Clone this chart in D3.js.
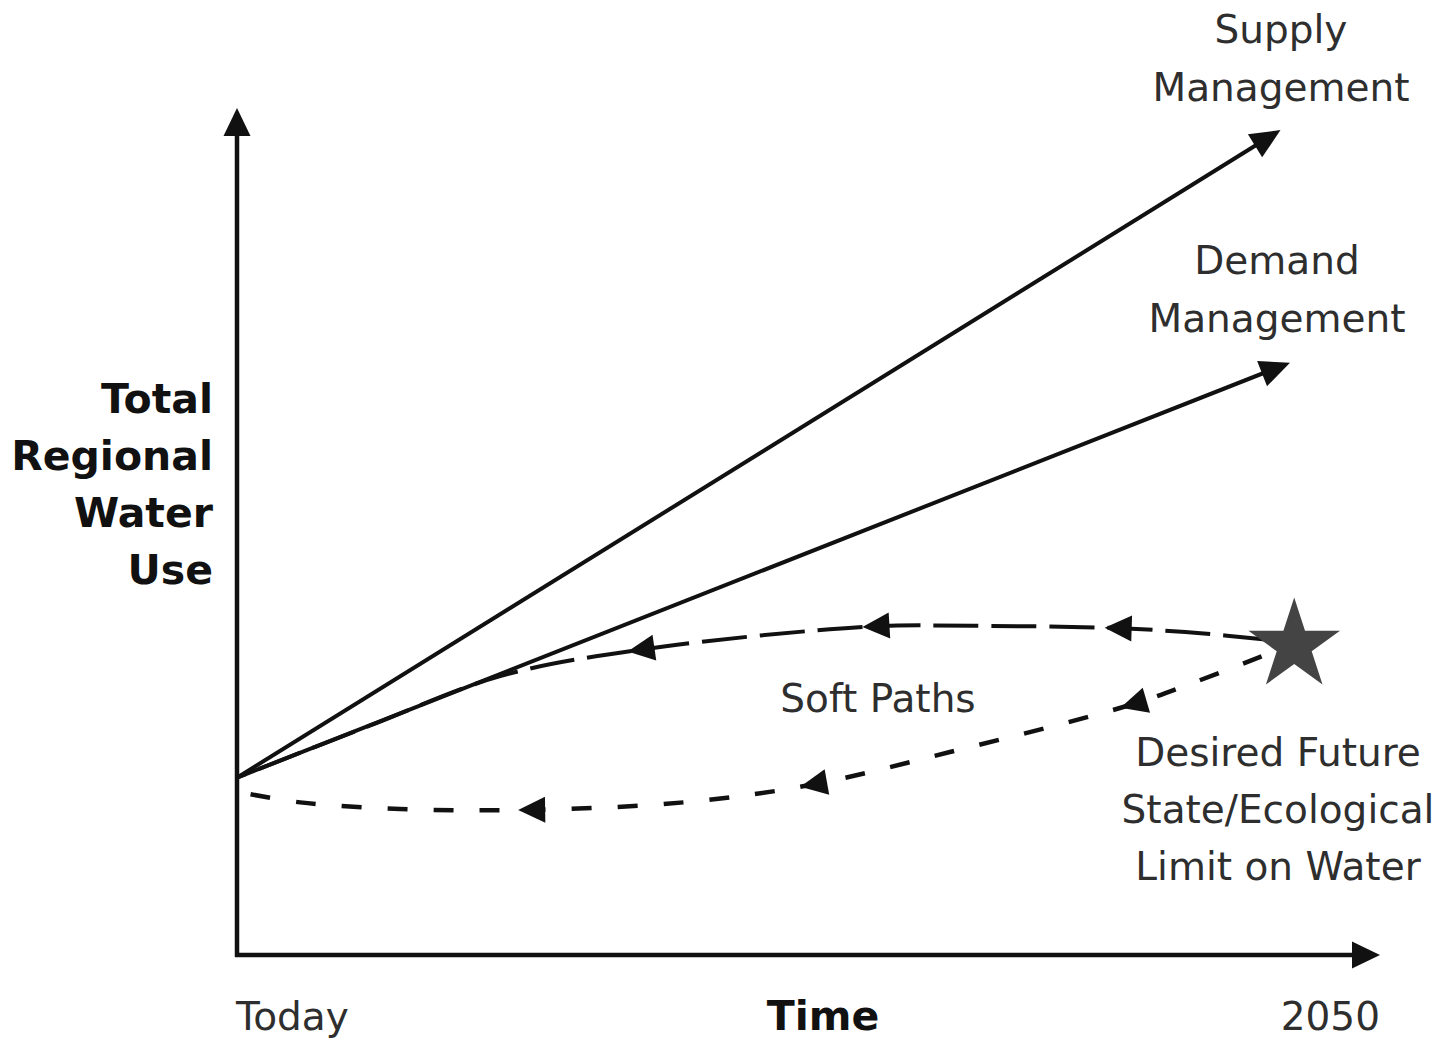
<!DOCTYPE html>
<html>
<head>
<meta charset="utf-8">
<script src="https://cdn.jsdelivr.net/npm/d3@7"></script>
<style>
  html, body { margin: 0; padding: 0; background: #fff; }
  svg { display: block; }
</style>
</head>
<body>
<svg id="chart" width="1450" height="1041"></svg>
<script>
// ---------- data ----------
const yAxisLabel = ["Total", "Regional", "Water", "Use"];
const xAxisTitle = "Time";
const xTickLabels = ["Today", "2050"];
const supplyLabel = ["Supply", "Management"];
const demandLabel = ["Demand", "Management"];
const softLabel = "Soft Paths";
const starLabel = ["Desired Future", "State/Ecological", "Limit on Water"];

// line end points (x: 0 = today, 100 = 2050; y: relative water use)
const supplyPts = [[0, 21.5], [99.1, 100]];
const demandPts = [[0, 21.5], [100, 71.8]];
// soft paths drawn from the star back to today
const softUpperPts = [[97.9, 38.2], [91.5, 39.0], [83.9, 39.6], [70.0, 39.9], [60.1, 39.8], [38.3, 37.0], [25.0, 33.8], [12.6, 27.8], [0, 21.5]];
const softLowerPts = [[97.3, 36.2], [90.8, 33.0], [84.8, 30.3], [67.7, 24.6], [54.4, 20.6], [42.4, 18.5], [28.1, 17.6], [15.5, 17.7], [6.0, 18.5], [0, 19.8]];
const softUpperArrowX = [82.4, 59.4, 37.1];
const softLowerArrowX = [83.9, 53.5, 26.7];
const starPoint = [100.4, 37.5];

// ---------- scales ----------
const svg = d3.select("#chart");
const x = d3.scaleLinear().domain([0, 100]).range([237, 1290]);
const y = d3.scaleLinear().domain([0, 100]).range([955, 130]);

const INK = "#111";
const TEXT = "#2e2e2e";

function arrowHead(g, tip, angle, len, wid, fill) {
  const ux = Math.cos(angle), uy = Math.sin(angle);
  const px = -uy, py = ux;
  const bx = tip[0] - ux * len, by = tip[1] - uy * len;
  const pts = [tip, [bx + px * wid / 2, by + py * wid / 2], [bx - px * wid / 2, by - py * wid / 2]];
  g.append("path").attr("d", "M" + pts.map(p => p.join(",")).join("L") + "Z").attr("fill", fill || INK);
}

// ---------- axes ----------
const axes = svg.append("g");
const x0 = x(0), y0 = y(0);
const xEnd = x.range()[1] + 90, yEnd = y.range()[1] - 22;
axes.append("line").attr("x1", x0).attr("y1", y0 + 2).attr("x2", x0).attr("y2", yEnd + 20)
  .attr("stroke", INK).attr("stroke-width", 4.5);
axes.append("line").attr("x1", x0 - 2).attr("y1", y0).attr("x2", xEnd - 20).attr("y2", y0)
  .attr("stroke", INK).attr("stroke-width", 4.5);
arrowHead(axes, [x0, yEnd], -Math.PI / 2, 28, 27);
arrowHead(axes, [xEnd, y0], 0, 28, 27);

// ---------- solid lines ----------
const line = d3.line().x(d => x(d[0])).y(d => y(d[1]));
[supplyPts, demandPts].forEach(pts => {
  const a = [x(pts[0][0]), y(pts[0][1])], b = [x(pts[1][0]), y(pts[1][1])];
  const ang = Math.atan2(b[1] - a[1], b[0] - a[0]);
  const shortened = [pts[0], [x.invert(b[0] - Math.cos(ang) * 20), y.invert(b[1] - Math.sin(ang) * 20)]];
  svg.append("path").attr("d", line(shortened)).attr("fill", "none")
    .attr("stroke", INK).attr("stroke-width", 4);
  arrowHead(svg, b, ang, 30, 27);
});

// ---------- soft paths ----------
const curve = d3.line().x(d => x(d[0])).y(d => y(d[1])).curve(d3.curveCatmullRom.alpha(0.5));
function softPath(pts, dash, width, arrowXs) {
  const p = svg.append("path").attr("d", curve(pts)).attr("fill", "none")
    .attr("stroke", INK).attr("stroke-width", width).attr("stroke-dasharray", dash);
  const node = p.node();
  const total = node.getTotalLength();
  arrowXs.forEach(ax => {
    const target = x(ax);
    let lo = 0, hi = total;
    for (let i = 0; i < 40; i++) {
      const mid = (lo + hi) / 2;
      if (node.getPointAtLength(mid).x > target) lo = mid; else hi = mid;
    }
    const L = (lo + hi) / 2;
    const pt = node.getPointAtLength(L);
    const a = node.getPointAtLength(Math.max(0, L - 2)), b = node.getPointAtLength(Math.min(total, L + 2));
    const ang = Math.atan2(b.y - a.y, b.x - a.x);
    arrowHead(svg, [pt.x, pt.y], ang, 27, 26);
  });
}
softPath(softUpperPts, "45 13", 4, softUpperArrowX);
softPath(softLowerPts, "20 26", 4.5, softLowerArrowX);

// ---------- star ----------
svg.append("path")
  .attr("d", d3.symbol(d3.symbolStar, 2600)())
  .attr("transform", `translate(${x(starPoint[0])},${y(starPoint[1])})`)
  .attr("fill", "#444");

// ---------- text ----------
const font = "DejaVu Sans, sans-serif";
function textLines(lines, cx, baseline, step, anchor, weight, fill, size) {
  lines.forEach((t, i) => {
    svg.append("text").attr("x", cx).attr("y", baseline + i * step)
      .attr("text-anchor", anchor).attr("font-family", font).attr("font-size", size || 39)
      .attr("font-weight", weight || "normal").attr("fill", fill || TEXT).text(t);
  });
}
textLines(supplyLabel, 1281, 43, 58, "middle");
textLines(demandLabel, 1277, 274, 58, "middle");
textLines([softLabel], 878, 712, 0, "middle");
textLines(starLabel, 1278, 766, 57, "middle");
textLines(yAxisLabel, 213, 413, 57, "end", "bold", INK, 41);
textLines([xTickLabels[0]], 236, 1030, 0, "start");
textLines([xAxisTitle], 823, 1030, 0, "middle", "bold", INK, 41);
textLines([xTickLabels[1]], 1380, 1030, 0, "end");
</script>
</body>
</html>
